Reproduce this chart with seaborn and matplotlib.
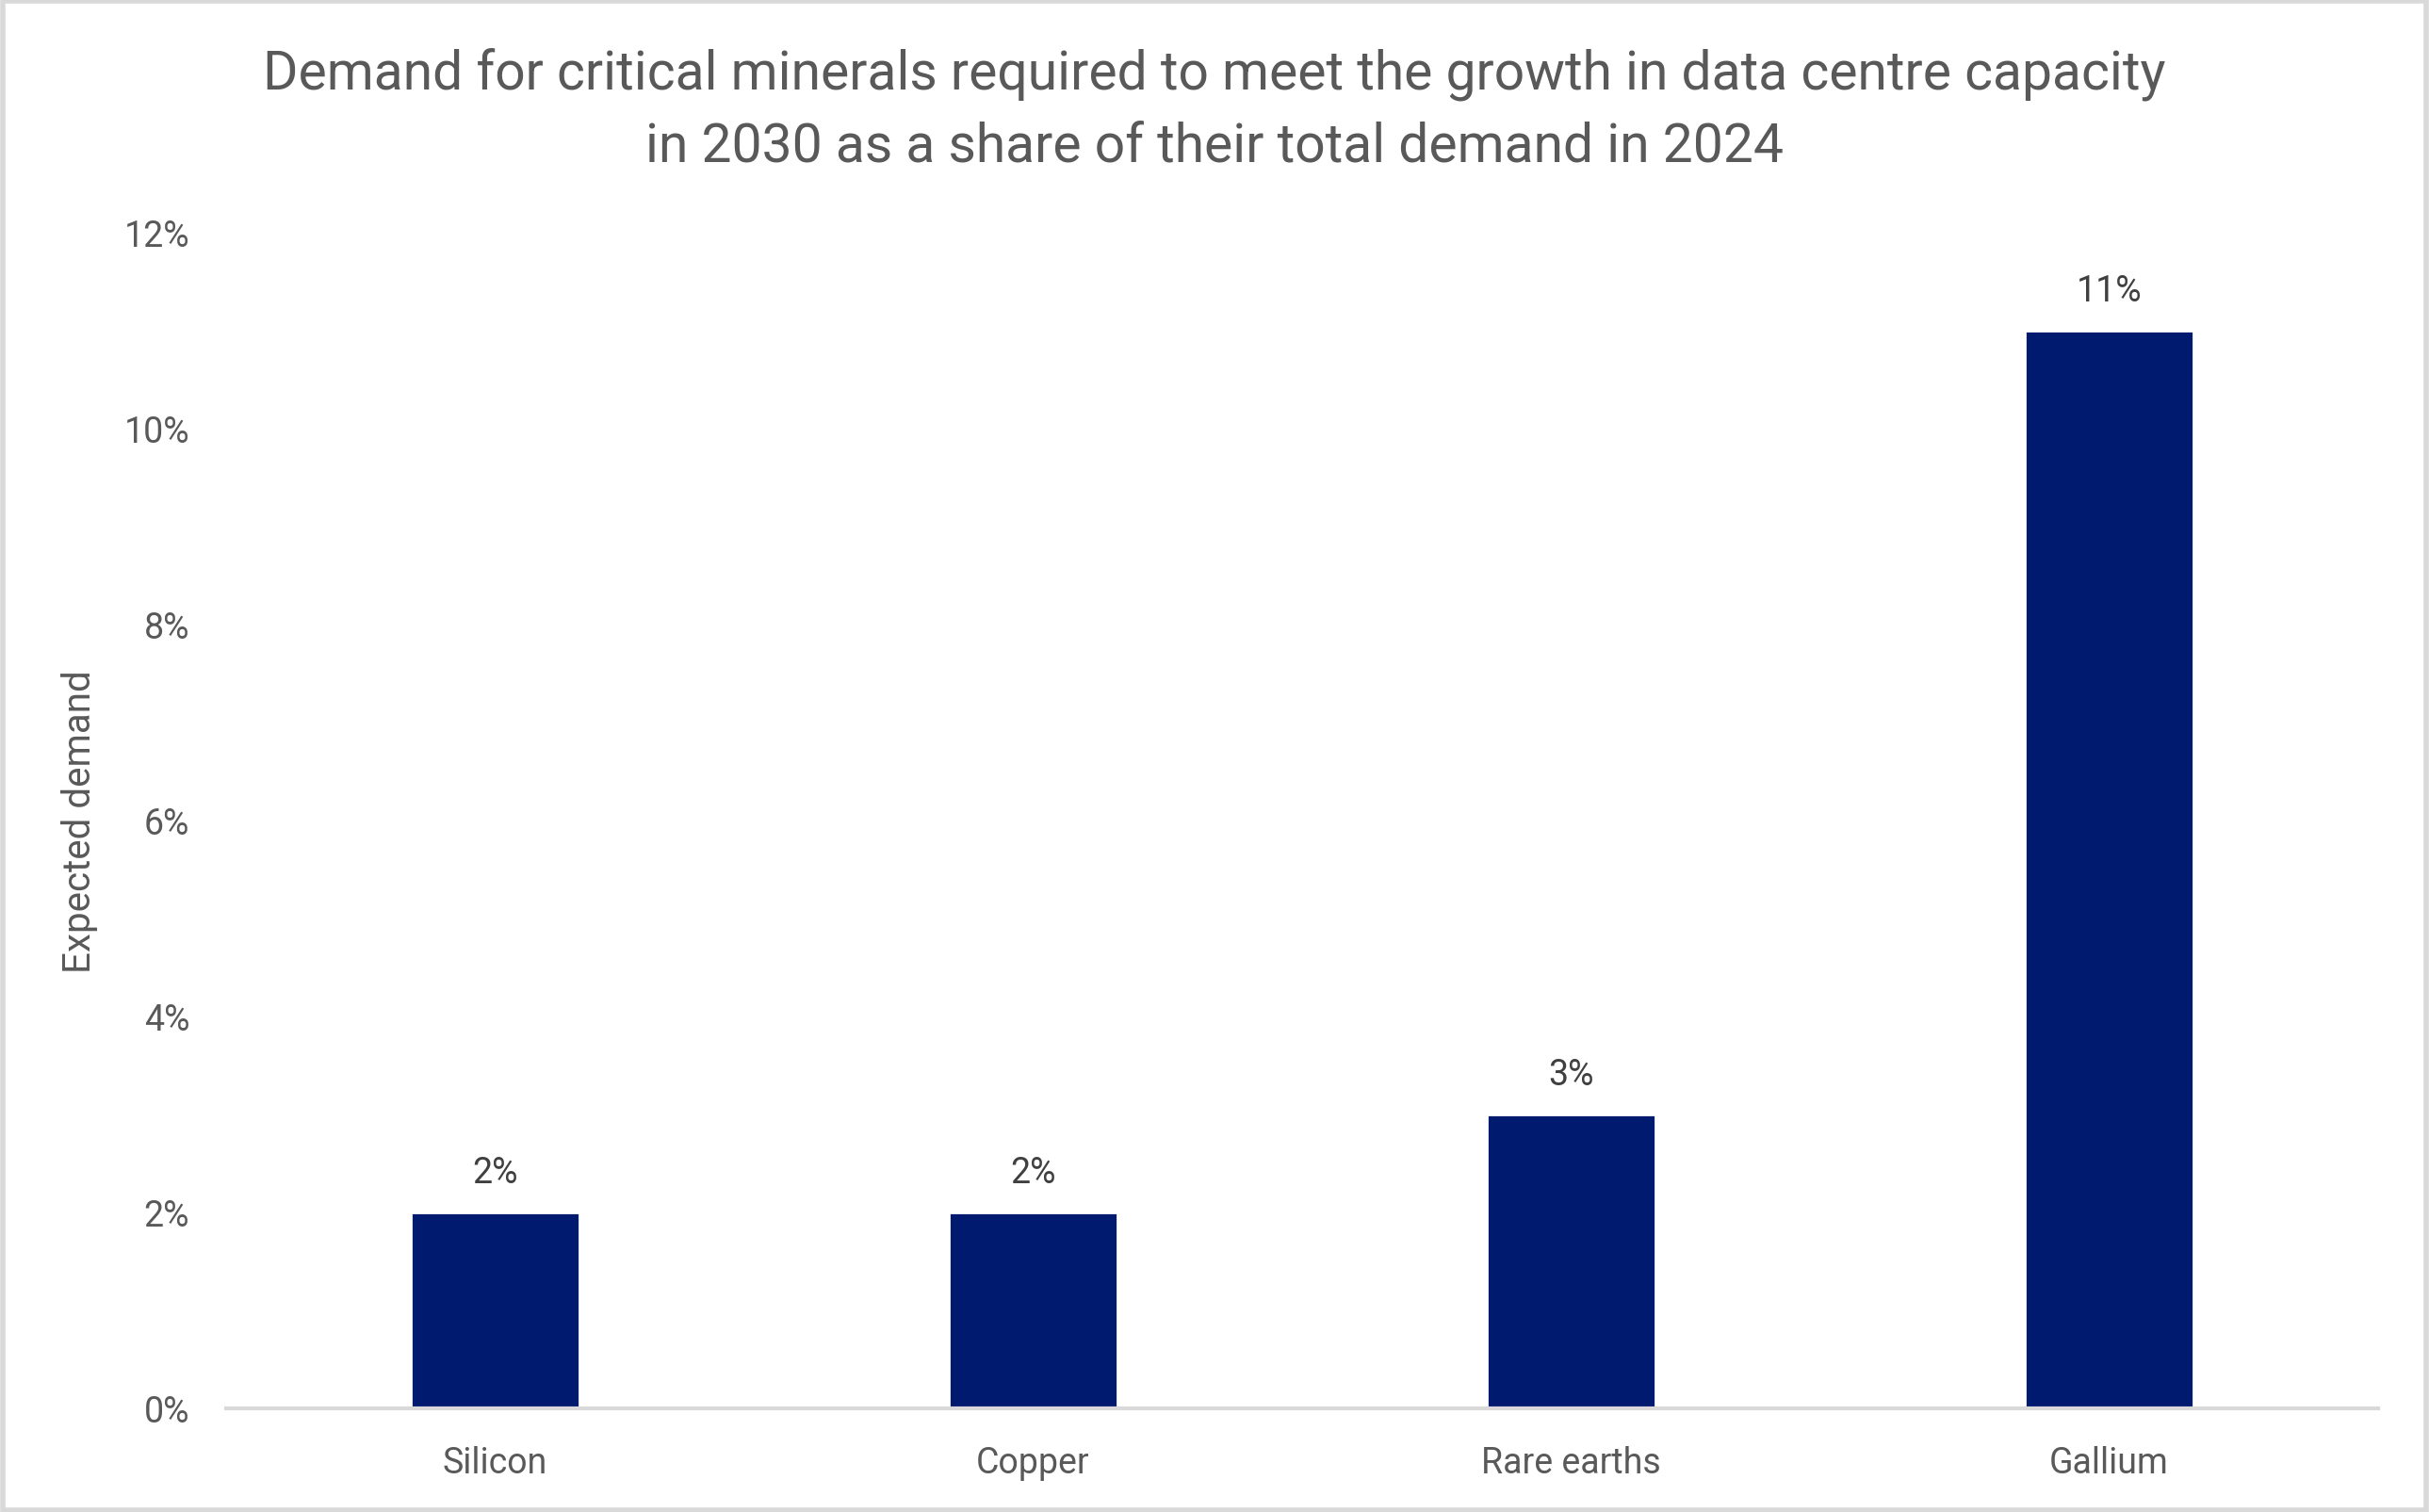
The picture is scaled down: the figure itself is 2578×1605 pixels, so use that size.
import pandas as pd
import seaborn as sns
import matplotlib.pyplot as plt
from matplotlib.patches import Rectangle
from matplotlib.ticker import PercentFormatter

# Datos del gráfico
minerals = ['Silicon', 'Copper', 'Rare earths', 'Gallium']
shares = [0.02, 0.02, 0.03, 0.11]
bar_labels = ['2%', '2%', '3%', '11%']

df = pd.DataFrame({'Mineral': minerals, 'Share': shares})

sns.set_style('white')
plt.rcParams['font.family'] = ['Roboto', 'DejaVu Sans']

fig = plt.figure(figsize=(12.89, 8.03), dpi=200)
ax = fig.add_axes([0.0931, 0.0685, 0.8859, 0.7771])

sns.barplot(data=df, x='Mineral', y='Share', color='#001A70', width=0.313,
            saturation=1, ax=ax)

# Etiquetas sobre las barras
for patch, label in zip(ax.patches, bar_labels):
    ax.text(patch.get_x() + patch.get_width() / 2, patch.get_height() + 0.0023,
            label, ha='center', va='bottom', fontsize=13.5, color='#404040')

ax.set_xlim(-0.5, 3.5)
ax.set_ylim(0, 0.12)
ax.set_yticks([0, 0.02, 0.04, 0.06, 0.08, 0.10, 0.12])
ax.yaxis.set_major_formatter(PercentFormatter(1.0, decimals=0))
ax.tick_params(axis='both', length=0, labelsize=13.5, labelcolor='#595959')
ax.tick_params(axis='y', pad=14)
ax.tick_params(axis='x', pad=14)

ax.set_xlabel('')
ax.set_ylabel('Expected demand', fontsize=14.5, color='#595959', labelpad=10)

for side in ['top', 'right', 'left']:
    ax.spines[side].set_visible(False)
ax.spines['bottom'].set_color('#D9D9D9')
ax.spines['bottom'].set_linewidth(1.5)

fig.text(0.5, 0.927, 'Demand for critical minerals required to meet the growth in data centre capacity\nin 2030 as a share of their total demand in 2024',
         ha='center', va='center', fontsize=20.5, color='#595959', linespacing=1.5)

# Borde de la figura
fig.patches.append(Rectangle((0.001, 0.001), 0.998, 0.998, transform=fig.transFigure,
                             fill=False, edgecolor='#D9D9D9', linewidth=2))

plt.savefig('out.png', dpi=200)
